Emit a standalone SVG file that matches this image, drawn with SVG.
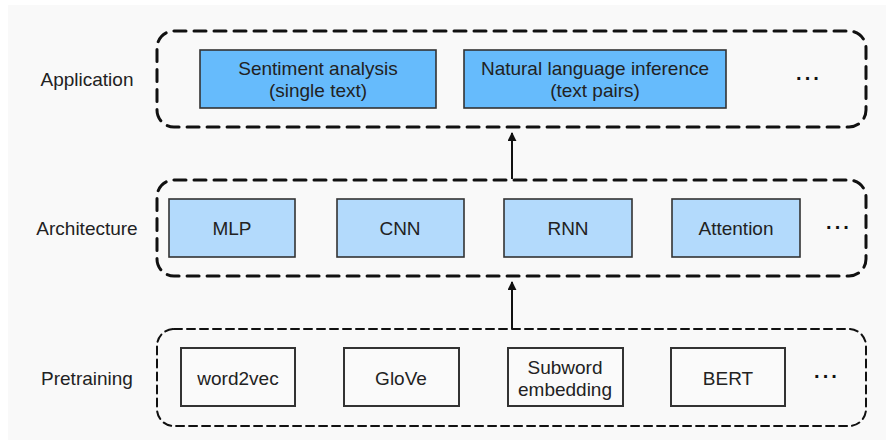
<svg xmlns="http://www.w3.org/2000/svg" width="886" height="444" viewBox="0 0 886 444">
<defs>
<marker id="ah" viewBox="0 0 10 10" refX="9" refY="5" markerWidth="9" markerHeight="9" markerUnits="userSpaceOnUse" orient="auto">
<path d="M0,0 L10,5 L0,10 Z" fill="#111"/>
</marker>
</defs>
<style>
text{font-family:"Liberation Sans",Arial,sans-serif;font-size:19px;fill:#222;text-anchor:middle;dominant-baseline:central}
.group{fill:none;stroke:#111;stroke-width:3;stroke-dasharray:12 8;stroke-linecap:round}
.group.thin{stroke-width:2;stroke-dasharray:8 5}
.app{fill:#66bbfc;stroke:#333;stroke-width:1.6}
.arch{fill:#b3dafc;stroke:#333;stroke-width:1.6}
.pre{fill:#fafafa;stroke:#333;stroke-width:2}
.dots{font-size:20px;font-weight:bold;letter-spacing:2px;fill:#111}
.conn{stroke:#111;stroke-width:2;fill:none}
</style>
<rect x="8" y="5" width="878" height="435" fill="#f9f9f9"/>
<g id="labels">
<text x="87" y="79">Application</text>
<text x="87" y="228">Architecture</text>
<text x="87" y="378">Pretraining</text>
</g>
<g id="application">
<rect class="group" x="157" y="31" width="709" height="96" rx="17"/>
<g id="sentiment"><rect class="app" x="200" y="50" width="236" height="58"/><text x="318" y="68">Sentiment analysis</text><text x="318" y="90">(single text)</text></g>
<g id="nli"><rect class="app" x="464" y="50" width="262" height="58"/><text x="595" y="68">Natural language inference</text><text x="595" y="90">(text pairs)</text></g>
<text class="dots" x="809" y="78">···</text>
</g>
<g id="architecture">
<rect class="group" x="157" y="180" width="709" height="96" rx="17"/>
<g id="mlp"><rect class="arch" x="169" y="199" width="126" height="58"/><text x="232" y="228">MLP</text></g>
<g id="cnn"><rect class="arch" x="337" y="199" width="127" height="58"/><text x="400" y="228">CNN</text></g>
<g id="rnn"><rect class="arch" x="504" y="199" width="128" height="58"/><text x="568" y="228">RNN</text></g>
<g id="attention"><rect class="arch" x="672" y="199" width="128" height="58"/><text x="736" y="228">Attention</text></g>
<text class="dots" x="839" y="227">···</text>
</g>
<g id="pretraining">
<rect class="group thin" x="157" y="329" width="709" height="97" rx="17"/>
<g id="word2vec"><rect class="pre" x="181" y="348" width="114" height="58"/><text x="238" y="378">word2vec</text></g>
<g id="glove"><rect class="pre" x="344" y="348" width="115" height="58"/><text x="401" y="378">GloVe</text></g>
<g id="subword"><rect class="pre" x="508" y="348" width="115" height="58"/><text x="565" y="367">Subword</text><text x="565" y="389">embedding</text></g>
<g id="bert"><rect class="pre" x="671" y="348" width="114" height="58"/><text x="728" y="378">BERT</text></g>
<text class="dots" x="827" y="376">···</text>
</g>
<g id="connectors">
<line class="conn" x1="512" y1="179" x2="512" y2="133" marker-end="url(#ah)"/>
<line class="conn" x1="512" y1="329" x2="512" y2="282" marker-end="url(#ah)"/>
</g>
</svg>
